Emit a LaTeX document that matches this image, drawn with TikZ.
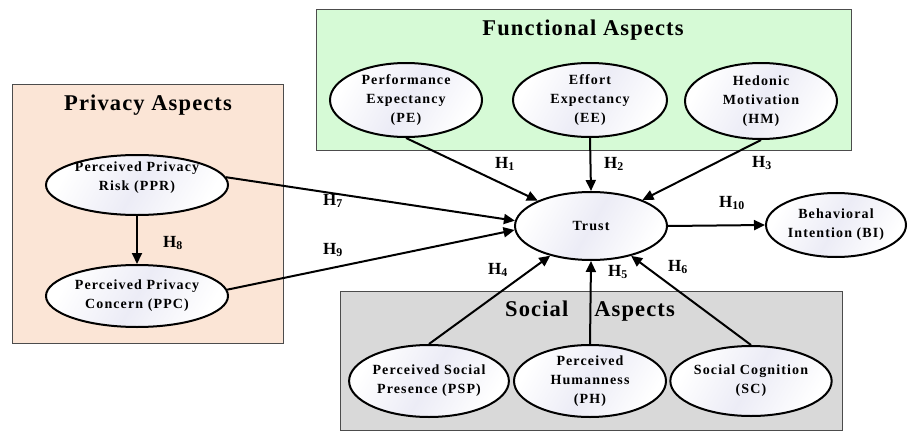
\documentclass[tikz,border=0pt]{standalone}
\usepackage{fontspec}
\setmainfont{Liberation Serif}
\newfontfamily\nodefont[LetterSpace=8]{Liberation Serif}
\newfontfamily\titlefont[LetterSpace=5]{Liberation Serif}
\usetikzlibrary{shapes.geometric,arrows.meta}
\definecolor{peach}{RGB}{251,229,214}
\definecolor{mint}{RGB}{214,250,214}
\definecolor{lgray}{RGB}{217,217,217}
\definecolor{streak}{RGB}{236,236,246}
\tikzset{
  constructtext/.style={align=center, inner sep=0pt, font=\nodefont\bfseries\fontsize{14}{19}\selectfont},
  construct/.style={ellipse, draw=black, line width=2pt, left color=white, right color=white,
    middle color=streak, shading angle=60, inner sep=0pt, constructtext},
  aspectbox/.style={draw=black!70, line width=1.2pt, inner sep=0pt, anchor=north west},
  boxtitle/.style={font=\titlefont\bfseries\fontsize{22.5}{26}\selectfont, inner sep=0pt},
  hyp/.style={font=\bfseries\fontsize{17}{18}\selectfont, inner sep=0pt},
  arr/.style={line width=2pt, -{Triangle[length=11pt,width=10pt]}},
}
\begin{document}
\begin{tikzpicture}[x=1pt,y=-1pt]
\useasboundingbox (0,0) rectangle (908,431);
% aspect boxes
\node[aspectbox, fill=peach, minimum width=271pt, minimum height=259pt] (privbox) at (12,84) {};
\node[aspectbox, fill=mint, minimum width=535pt, minimum height=141pt] (funcbox) at (316,9) {};
\node[aspectbox, fill=lgray, minimum width=502pt, minimum height=139pt] (socbox) at (340,291) {};
\node[boxtitle] (privtitle) at (148,105) {Privacy Aspects};
\node[boxtitle] (functitle) at (583,30) {Functional Aspects};
\node[boxtitle] (soctitle) at (590,311) {Social\hspace{26pt}Aspects};
% constructs
\node[construct, minimum width=182pt, minimum height=60pt,
  label={[constructtext, yshift=7pt]center:{Perceived Privacy\\Risk (PPR)}}] (ppr) at (137,185) {};
\node[construct, minimum width=182pt, minimum height=62pt] (ppc) at (137,296) {Perceived Privacy\\Concern (PPC)};
\node[construct, minimum width=152pt, minimum height=74pt] (pe) at (406,100) {Performance\\Expectancy\\(PE)};
\node[construct, minimum width=154pt, minimum height=74pt] (ee) at (590,100) {Effort\\Expectancy\\(EE)};
\node[construct, minimum width=152pt, minimum height=76pt] (hm) at (761,101) {Hedonic\\Motivation\\(HM)};
\node[construct, minimum width=152pt, minimum height=68pt] (trust) at (591,226) {Trust};
\node[construct, minimum width=140pt, minimum height=64pt] (bi) at (836,225) {Behavioral\\Intention (BI)};
\node[construct, minimum width=152pt, minimum height=72pt] (psp) at (429,381) {Perceived Social\\Presence (PSP)};
\node[construct, minimum width=152pt, minimum height=72pt] (ph) at (590,381) {Perceived\\Humanness\\(PH)};
\node[construct, minimum width=152pt, minimum height=70pt] (sc) at (751,381) {Social Cognition\\(SC)};
% connectors
\draw[arr] (pe.south) -- (trust);
\draw[arr] (ee.south) -- (trust.north);
\draw[arr] (hm.south) -- (trust);
\draw[arr] (ppr.5) -- (trust.176);
\draw[arr] (ppc.4) -- (trust.183);
\draw[arr] (ppr.south) -- (ppc.north);
\draw[arr] (psp.north) -- (trust);
\draw[arr] (ph.north) -- (trust.south);
\draw[arr] (sc.north) -- (trust);
\draw[arr] (trust.east) -- (bi.west);
% hypothesis labels
\node[hyp] (h1) at (505,164) {H\textsubscript{1}};
\node[hyp] (h2) at (614,164) {H\textsubscript{2}};
\node[hyp] (h3) at (762,163) {H\textsubscript{3}};
\node[hyp] (h4) at (498,270) {H\textsubscript{4}};
\node[hyp] (h5) at (618,272) {H\textsubscript{5}};
\node[hyp] (h6) at (678,267) {H\textsubscript{6}};
\node[hyp] (h7) at (333,201) {H\textsubscript{7}};
\node[hyp] (h8) at (173,243) {H\textsubscript{8}};
\node[hyp] (h9) at (333,250) {H\textsubscript{9}};
\node[hyp] (h10) at (732,203) {H\textsubscript{10}};
\end{tikzpicture}
\end{document}
